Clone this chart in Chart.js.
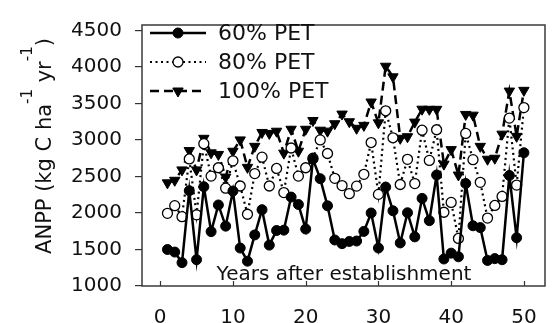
<!DOCTYPE html>
<html>
<head>
<meta charset="utf-8">
<script src="https://cdn.jsdelivr.net/npm/chart.js@4.4.1/dist/chart.umd.min.js"></script>
<style>
  html, body { margin: 0; padding: 0; background: #fff; }
  #wrap { width: 553px; height: 323px; }
</style>
</head>
<body>
<div id="wrap"><canvas id="anppChart" width="553" height="323"></canvas></div>
<script>
const years = [1, 2, 3, 4, 5, 6, 7, 8, 9, 10, 11, 12, 13, 14, 15, 16, 17, 18, 19, 20,
  21, 22, 23, 24, 25, 26, 27, 28, 29, 30, 31, 32, 33, 34, 35, 36, 37, 38, 39, 40,
  41, 42, 43, 44, 45, 46, 47, 48, 49, 50];

const pet60 = [1500, 1465, 1320, 2305, 1360, 2360, 1745, 2110, 1820, 2300,
  1520, 1340, 1700, 2045, 1560, 1760, 1765, 2218, 2116, 1780,
  2736, 2470, 2098, 1630, 1580, 1610, 1616, 1748, 2000, 1520,
  2355, 2030, 1590, 2003, 1673, 2200, 1895, 2520, 1370, 1450,
  1400, 2404, 1825, 1800, 1350, 1375, 1360, 2514, 1660, 2825];

const pet80 = [1995, 2100, 1950, 2740, 1975, 2950, 2505, 2620, 2340, 2714,
  2370, 1983, 2540, 2765, 2370, 2610, 2280, 2890, 2505, 2620,
  2750, 3001, 2815, 2475, 2375, 2265, 2368, 2530, 2965, 2255,
  3400, 3030, 2390, 2735, 2403, 3134, 2720, 3140, 2010, 2145,
  1651, 3090, 2730, 2420, 1930, 2103, 2227, 3300, 2382, 3444];

const pet100 = [2413, 2448, 2590, 2855, 2590, 3023, 2824, 2802, 2492, 2846,
  3001, 2625, 2913, 3103, 3090, 3120, 2820, 3147, 2846, 3147,
  3267, 3134, 3121, 3223, 3355, 3250, 3160, 3200, 3520, 3235,
  4010, 3865, 3023, 3045, 3245, 3422, 3420, 3420, 2669, 2868,
  2520, 3350, 3340, 2913, 2736, 2750, 3080, 3670, 3050, 3680];

const seriesLabels = ['60% PET', '80% PET', '100% PET'];
const xTicks = [0, 10, 20, 30, 40, 50];
const yTicks = [1000, 1500, 2000, 2500, 3000, 3500, 4000, 4500];
const xTitle = 'Years after establishment';
// [text, isSuperscript]
const yTitleParts = [['ANPP (kg C ha', 0], ['-1', 1], [' yr', 0], ['-1', 1], [')', 0]];

const FONT = '"DejaVu Sans", sans-serif';
Chart.defaults.font.family = FONT;
Chart.defaults.color = '#111';

const toPoints = (vals) => years.map((yr, i) => ({ x: yr, y: vals[i] }));

// frame, inward x ticks, titles and the legend box
const decor = {
  id: 'decor',
  afterDatasetsDraw(chart) {
    const { ctx, chartArea: a, scales } = chart;
    ctx.save();

    // x tick marks point up into the plot
    ctx.strokeStyle = '#333';
    ctx.lineWidth = 1.2;
    xTicks.forEach(v => {
      const px = Math.round(scales.x.getPixelForValue(v)) + 0.5;
      ctx.beginPath();
      ctx.moveTo(px, a.bottom);
      ctx.lineTo(px, a.bottom - 5);
      ctx.stroke();
    });

    // frame
    ctx.strokeStyle = '#3a3a3a';
    ctx.lineWidth = 1.5;
    ctx.strokeRect(a.left, a.top, a.right - a.left, a.bottom - a.top);

    // x title sits inside the plot
    ctx.fillStyle = '#111';
    ctx.font = '20px ' + FONT;
    ctx.textAlign = 'center';
    ctx.textBaseline = 'alphabetic';
    ctx.fillText(xTitle, 344, 280);

    // y title with superscripts
    const fonts = ['21px ' + FONT, '15px ' + FONT];
    ctx.save();
    ctx.translate(51, 146);
    ctx.rotate(-Math.PI / 2);
    ctx.textAlign = 'left';
    let total = 0;
    yTitleParts.forEach(([t, s]) => { ctx.font = fonts[s]; total += ctx.measureText(t).width; });
    let tx = -total / 2;
    yTitleParts.forEach(([t, s]) => {
      ctx.font = fonts[s];
      ctx.fillText(t, tx, s ? -19 : 0);
      tx += ctx.measureText(t).width;
    });
    ctx.restore();

    // legend
    const rows = [33, 62, 91];
    chart.data.datasets.forEach((ds, i) => {
      const y = rows[i];
      ctx.strokeStyle = '#000';
      ctx.lineWidth = ds.borderWidth;
      ctx.setLineDash(ds.borderDash || []);
      ctx.beginPath();
      ctx.moveTo(150, y);
      ctx.lineTo(206, y);
      ctx.stroke();
      ctx.setLineDash([]);

      ctx.fillStyle = ds.pointBackgroundColor;
      ctx.lineWidth = ds.pointBorderWidth;
      const r = ds.pointRadius;
      ctx.beginPath();
      if (ds.pointStyle === 'triangle') {
        ctx.moveTo(178 - r * 0.866, y - r * 0.5);
        ctx.lineTo(178 + r * 0.866, y - r * 0.5);
        ctx.lineTo(178, y + r);
        ctx.closePath();
      } else {
        ctx.arc(178, y, r, 0, Math.PI * 2);
      }
      ctx.fill();
      ctx.stroke();

      ctx.fillStyle = '#111';
      ctx.font = '22px ' + FONT;
      ctx.textAlign = 'left';
      ctx.textBaseline = 'middle';
      ctx.fillText(ds.label, 218, y + 1);
    });

    ctx.restore();
  }
};

new Chart(document.getElementById('anppChart'), {
  type: 'line',
  data: {
    datasets: [
      {
        label: seriesLabels[0],
        data: toPoints(pet60),
        borderColor: '#000',
        borderWidth: 2.5,
        pointStyle: 'circle',
        pointRadius: 5,
        pointBackgroundColor: '#000',
        pointBorderColor: '#000',
        pointBorderWidth: 1
      },
      {
        label: seriesLabels[1],
        data: toPoints(pet80),
        borderColor: '#000',
        borderWidth: 2.2,
        borderDash: [2, 3.5],
        pointStyle: 'circle',
        pointRadius: 5,
        pointBackgroundColor: '#fff',
        pointBorderColor: '#000',
        pointBorderWidth: 1.3
      },
      {
        label: seriesLabels[2],
        data: toPoints(pet100),
        borderColor: '#000',
        borderWidth: 2.5,
        borderDash: [9, 5],
        pointStyle: 'triangle',
        pointRotation: 180,
        pointRadius: 6,
        pointBackgroundColor: '#000',
        pointBorderColor: '#000',
        pointBorderWidth: 1
      }
    ]
  },
  options: {
    responsive: false,
    animation: false,
    devicePixelRatio: 1,
    layout: { padding: { left: 0, right: 8, top: 16, bottom: 0 } },
    plugins: {
      legend: { display: false },
      tooltip: { enabled: false }
    },
    elements: { line: { tension: 0 } },
    scales: {
      x: {
        type: 'linear',
        min: -2.5,
        max: 52.9,
        afterBuildTicks: axis => { axis.ticks = xTicks.map(v => ({ value: v })); },
        afterFit: axis => { axis.height = 37; },
        grid: { display: false },
        border: { display: false },
        ticks: { padding: 12, font: { size: 20 }, maxRotation: 0, autoSkip: false,
          callback: v => String(v) }
      },
      y: {
        min: 1000,
        max: 4575,
        afterBuildTicks: axis => { axis.ticks = yTicks.map(v => ({ value: v })); },
        afterFit: axis => { axis.width = 142; },
        grid: { drawOnChartArea: false, drawTicks: true, tickLength: 7, color: '#333', lineWidth: 1.2 },
        border: { display: false },
        ticks: { padding: 13, font: { size: 20 }, callback: v => String(v) }
      }
    }
  },
  plugins: [decor]
});
</script>
</body>
</html>
